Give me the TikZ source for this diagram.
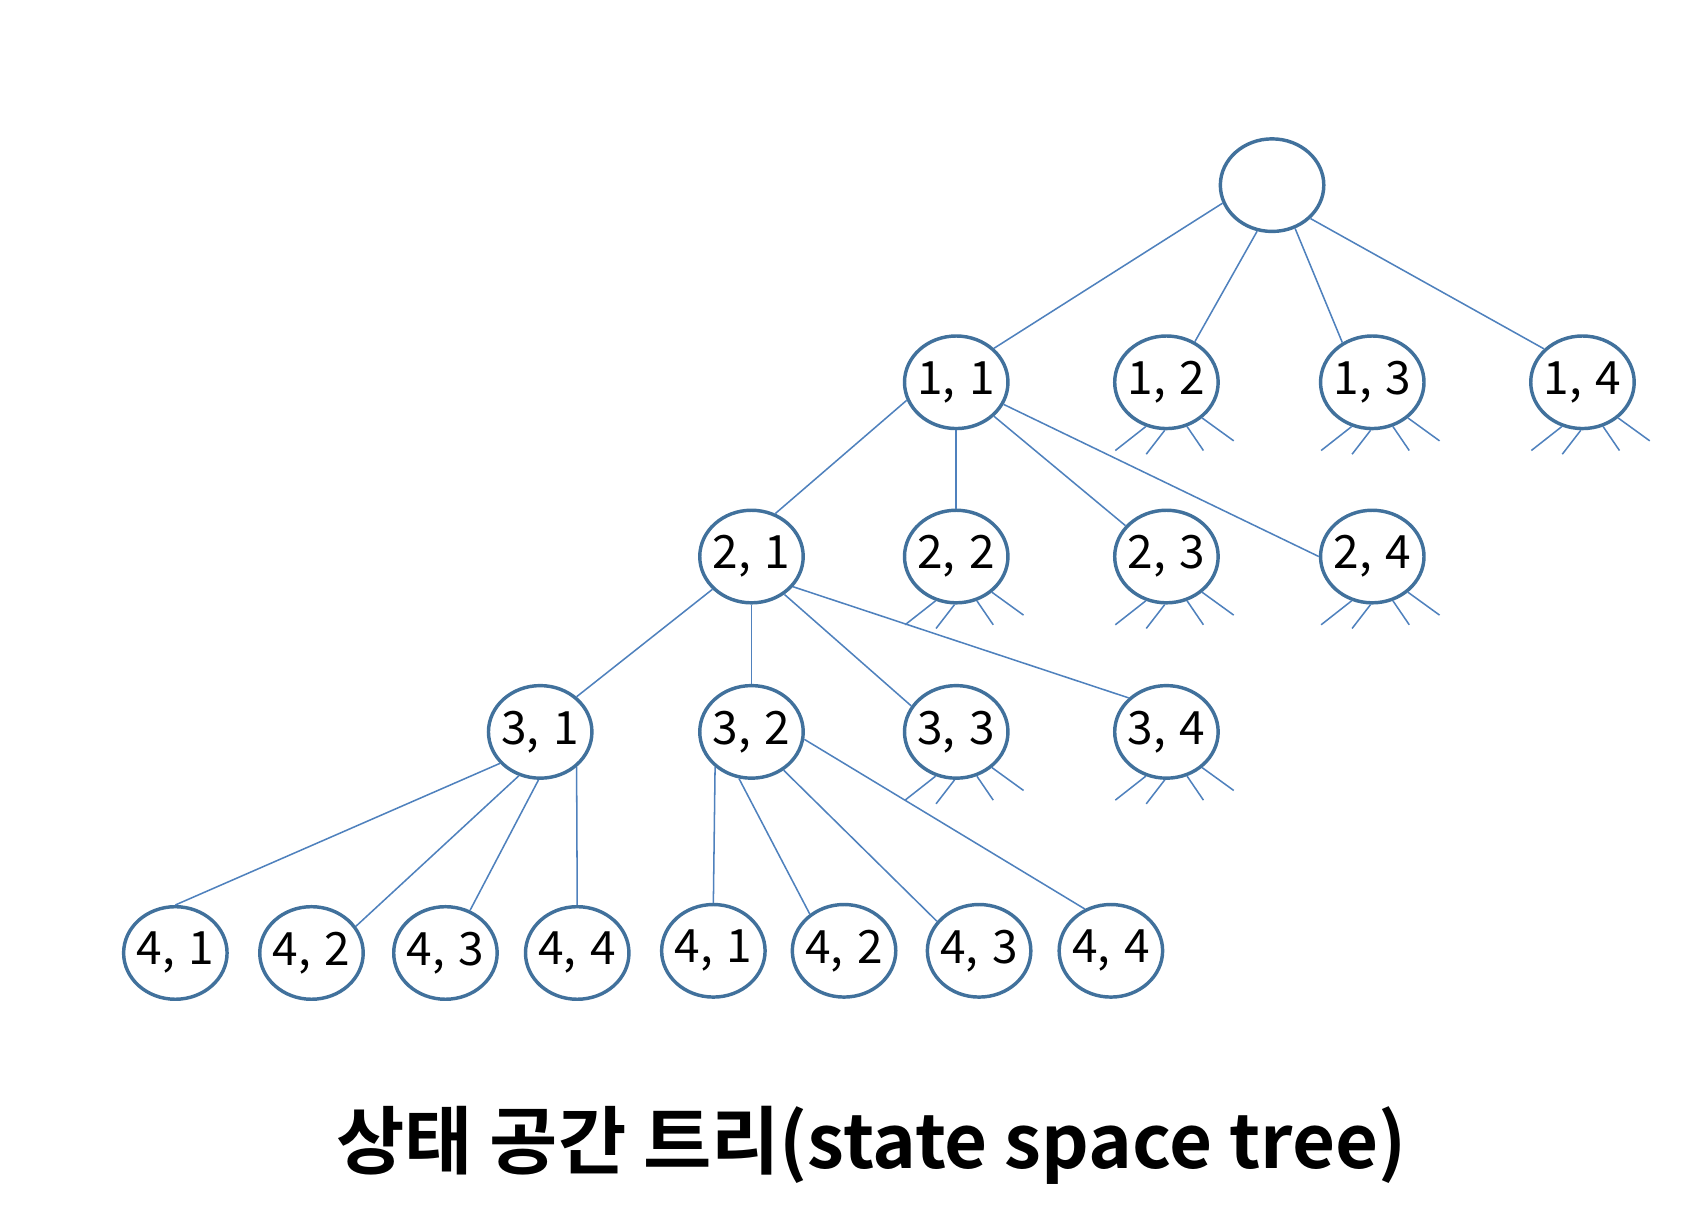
\documentclass[tikz,border=0pt]{standalone}
\usepackage{fontspec}
\usepackage{tikz}
\usetikzlibrary{shapes.geometric}
\newfontfamily\krfont{Noto Sans CJK KR}[BoldFont={Noto Sans CJK KR Bold}]
\definecolor{rimblue}{HTML}{41719C}
\definecolor{lineblue}{HTML}{4F81BD}
% label of a state, kept from widening the ellipse
\newcommand{\pairtext}[2]{\makebox[0pt]{#1,\hspace{0.3em}#2}}

\begin{document}
\begin{tikzpicture}[x=0.1mm, y=-0.1mm,
    state/.style={ellipse, draw=rimblue, line width=0.9pt, fill=white, inner sep=0pt,
        minimum width=9.5mm, minimum height=8.5mm, font=\krfont\fontsize{12}{14}\selectfont},
    link/.style={draw=lineblue, line width=0.4pt}
    ]
    \useasboundingbox (0,0) rectangle (1560,1110);

    % the root and the four levels
    \node[state] (root) at (1168,170) {};
    \foreach \x[count=\xi] in {878,1071,1260,1453}
        \node[state] (a\xi) at (\x,351) {\pairtext{1}{\xi}};
    \foreach \x[count=\xi] in {690,878,1071,1260}
        \node[state] (b\xi) at (\x,511) {\pairtext{2}{\xi}};
    \foreach \x[count=\xi] in {496,690,878,1071}
        \node[state] (c\xi) at (\x,672) {\pairtext{3}{\xi}};
    \foreach \x[count=\xi] in {161,286,409,530}
        \node[state] (d\xi) at (\x,875) {\pairtext{4}{\xi}};
    \foreach \x[count=\xi] in {655,775,899,1020}
        \node[state] (e\xi) at (\x,873) {\pairtext{4}{\xi}};

    % branches
    \foreach \s/\t in {root.200/a1.42, root.252/a2.55, root.-62/a3.127, root.-41/a4.139,
        a1.200/b1.61, a1.270/b2.90, a1.-42/b3.143, a1.-25/b4.180,
        b1.220/c1.44, b1.270/c2.90, b1.-49/c3.150, b1.-36/c4.138,
        c1.218/d1.90, c1.244/d2.31, c1.268/d3.60, c1.-44/d4.90,
        c2.224/e1.90, c2.255/e2.133, c2.-50/e3.145, c2.-8/e4.122}
        \path[every edge/.style={link}] (\s) edge (\t);

    % cut-off branches below the other nodes
    \foreach \n in {a2,a3,a4,b2,b3,b4,c3,c4} {
        \draw[link] (\n.-115) -- ++(-28,22);
        \draw[link] (\n.-92) -- ++(-17,22);
        \draw[link] (\n.-65) -- ++(15,22);
        \draw[link] (\n.-45) -- ++(29,21);
    }

    \node[font=\krfont\bfseries\fontsize{19.4}{23}\selectfont] (title) at (800,1052)
        {상태 공간 트리(state space tree)};
\end{tikzpicture}
\end{document}
